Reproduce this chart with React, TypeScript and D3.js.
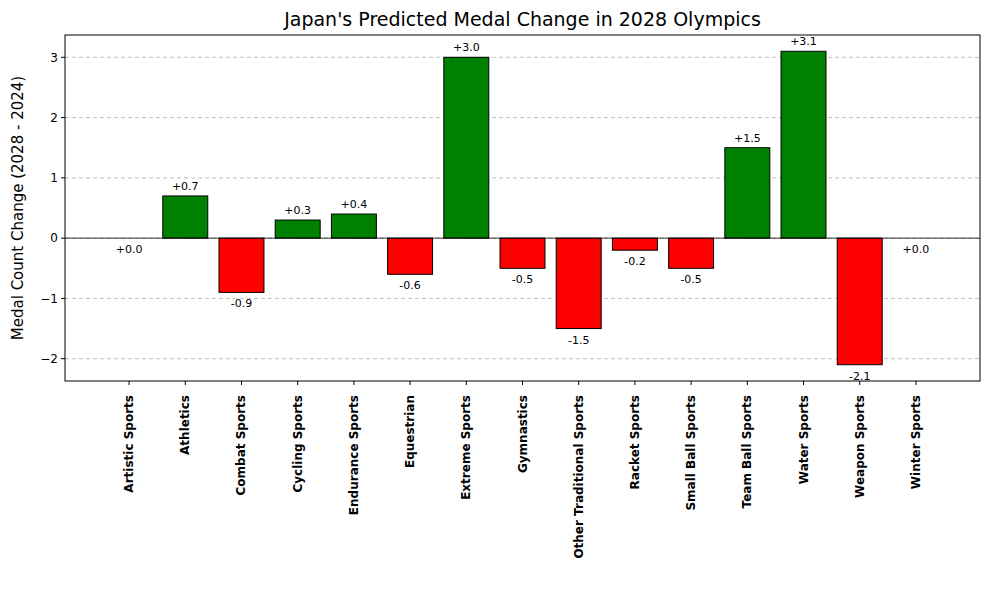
import React from 'react';
import * as d3 from 'd3';

const categories = ['Artistic Sports', 'Athletics', 'Combat Sports', 'Cycling Sports', 'Endurance Sports', 'Equestrian', 'Extreme Sports', 'Gymnastics', 'Other Traditional Sports', 'Racket Sports', 'Small Ball Sports', 'Team Ball Sports', 'Water Sports', 'Weapon Sports', 'Winter Sports'];
const changes = [0.0, 0.7, -0.9, 0.3, 0.4, -0.6, 3.0, -0.5, -1.5, -0.2, -0.5, 1.5, 3.1, -2.1, 0.0];
const yTicks = [-2, -1, 0, 1, 2, 3];

const W = 989, H = 590;
const m = { left: 65, right: 9, top: 35, bottom: 209 };

export default function App() {
  const x = d3.scaleLinear().domain([-1.14, categories.length - 1 + 1.14]).range([m.left, W - m.right]);
  const y = d3.scaleLinear().domain([-2.37, 3.37]).range([H - m.bottom, m.top]);
  const bw = x(0.8) - x(0);
  const font = 'DejaVu Sans, sans-serif';
  const fmt = (v: number) => (v >= 0 ? '+' : '') + v.toFixed(1);
  return (
    <svg width={W} height={H} style={{ position: 'absolute', left: 0, top: 0, fontFamily: font }}>
      <rect width={W} height={H} fill="white" />
      {yTicks.map(t => (
        <g key={t}>
          <line x1={m.left} x2={W - m.right} y1={y(t)} y2={y(t)} stroke="#b0b0b0" strokeDasharray="4,3" strokeWidth={0.8} />
          <line x1={m.left - 4} x2={m.left} y1={y(t)} y2={y(t)} stroke="black" />
          <text x={m.left - 7} y={y(t)} dy="0.35em" textAnchor="end" fontSize={12}>{t < 0 ? '−' + Math.abs(t) : t}</text>
        </g>
      ))}
      {changes.map((v, i) => (
        <g key={i}>
          <rect x={x(i) - bw / 2} width={bw} y={y(Math.max(0, v))} height={Math.abs(y(v) - y(0))}
            fill={v > 0 ? 'green' : v < 0 ? 'red' : 'green'} stroke="black" strokeWidth={1} />
          <text x={x(i)} y={v > 0 ? y(v) - 6 : y(v) + 15} textAnchor="middle" fontSize={11}>{fmt(v)}</text>
        </g>
      ))}
      <line x1={m.left} x2={W - m.right} y1={y(0)} y2={y(0)} stroke="black" strokeWidth={0.8} />
      <rect x={m.left} y={m.top} width={W - m.left - m.right} height={H - m.top - m.bottom} fill="none" stroke="black" strokeWidth={1} />
      {categories.map((c, i) => (
        <g key={c}>
          <line x1={x(i)} x2={x(i)} y1={H - m.bottom} y2={H - m.bottom + 4} stroke="black" />
          <text transform={`translate(${x(i) + 4},${H - m.bottom + 14}) rotate(-90)`} textAnchor="end" fontSize={12} fontWeight="bold">{c}</text>
        </g>
      ))}
      <text transform={`translate(23,${(m.top + H - m.bottom) / 2}) rotate(-90)`} textAnchor="middle" fontSize={15}>Medal Count Change (2028 - 2024)</text>
      <text x={(m.left + W - m.right) / 2} y={26} textAnchor="middle" fontSize={19}>Japan's Predicted Medal Change in 2028 Olympics</text>
    </svg>
  );
}
